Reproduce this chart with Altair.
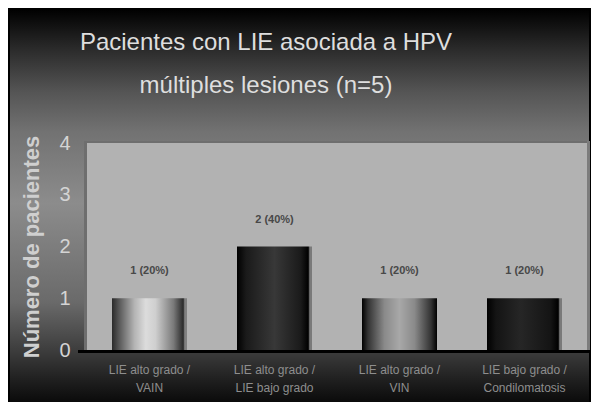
import altair as alt
import pandas as pd

categories = [
    "LIE alto grado / VAIN",
    "LIE alto grado / LIE bajo grado",
    "LIE alto grado / VIN",
    "LIE bajo grado / Condilomatosis",
]
values = [1, 2, 1, 1]
percents = [20, 40, 20, 20]
y_ticks = [0, 1, 2, 3, 4]
title_lines = ["Pacientes con LIE asociada a HPV", "múltiples lesiones (n=5)"]
y_title = "Número de pacientes"

df = pd.DataFrame({"cat": categories, "value": values, "pct": percents})
one = pd.DataFrame({"k": [0]})

FONT = "Liberation Sans"
W, H = 500, 207

bar_gradients = [
    [("#2a2a2a", 0), ("#5a5a5a", 0.1), ("#b4b4b4", 0.3), ("#dcdcdc", 0.45), ("#cfcfcf", 0.58),
     ("#7a7a7a", 0.82), ("#2a2a2a", 0.95), ("#808080", 0.97), ("#808080", 1)],
    [("#000000", 0), ("#1a1a1a", 0.12), ("#383838", 0.5), ("#1a1a1a", 0.85), ("#000000", 0.95),
     ("#7a7a7a", 0.97), ("#7a7a7a", 1)],
    [("#000000", 0), ("#333333", 0.08), ("#8a8a8a", 0.3), ("#a8a8a8", 0.5), ("#8a8a8a", 0.7),
     ("#333333", 0.92), ("#000000", 1)],
    [("#000000", 0), ("#141414", 0.12), ("#262626", 0.45), ("#141414", 0.85), ("#000000", 0.95),
     ("#7a7a7a", 0.97), ("#7a7a7a", 1)],
]

def grad(stops, horizontal=True):
    return alt.LinearGradient(
        gradient="linear",
        stops=[alt.GradientStop(color=c, offset=o) for c, o in stops],
        x1=0, x2=1 if horizontal else 0, y1=0, y2=0 if horizontal else 1,
    )

bg = alt.Chart(one).mark_rect(
    fill=grad([("#000000", 0), ("#2a2a2a", 0.1), ("#555555", 0.21), ("#727272", 0.31),
               ("#8c8c8c", 0.49), ("#6a6a6a", 0.74), ("#3a3a3a", 0.87), ("#1e1e1e", 0.94),
               ("#080808", 1)], horizontal=False),
    stroke="#000000", strokeWidth=2,
).encode(x=alt.value(-78), x2=alt.value(503), y=alt.value(-134), y2=alt.value(262))

wall_left = alt.Chart(one).mark_rect(fill="#6e6e6e").encode(
    x=alt.value(-3), x2=alt.value(0), y=alt.value(-2), y2=alt.value(H))
wall_top = alt.Chart(one).mark_rect(fill="#6e6e6e").encode(
    x=alt.value(-3), x2=alt.value(W), y=alt.value(-2), y2=alt.value(0))
plot_bg = alt.Chart(one).mark_rect(fill="#b2b2b2").encode(
    x=alt.value(0), x2=alt.value(W), y=alt.value(0), y2=alt.value(H))
right_wall = alt.Chart(one).mark_rect(fill="#7c7c7c").encode(
    x=alt.value(W), x2=alt.value(W + 3), y=alt.value(-2), y2=alt.value(H))
base_line = alt.Chart(one).mark_rect(fill="#000000").encode(
    x=alt.value(-9), x2=alt.value(W + 3), y=alt.value(H), y2=alt.value(H + 3))

title1 = alt.Chart(one).mark_text(
    text=title_lines[0], font=FONT, fontSize=24, color="#dedede", baseline="alphabetic", align="center"
).encode(x=alt.value(179), y=alt.value(-93))
title2 = alt.Chart(one).mark_text(
    text=title_lines[1], font=FONT, fontSize=24, color="#dedede", baseline="alphabetic", align="center"
).encode(x=alt.value(179), y=alt.value(-50))

x_enc = alt.X(
    "cat:N", sort=categories, title=None,
    scale=alt.Scale(paddingInner=0.4, paddingOuter=0.2),
    axis=alt.Axis(
        zindex=1,
        labelAngle=0, labelFont=FONT, labelFontSize=12, labelColor="#8e8e8e",
        labelExpr="[split(datum.label, ' / ')[0] + ' /', split(datum.label, ' / ')[1]]",
        labelLineHeight=18, labelPadding=14, ticks=False, domain=False, labelLimit=200,
    ),
)
y_enc = alt.Y(
    "value:Q", title=y_title,
    scale=alt.Scale(domain=[0, 4], nice=False),
    axis=alt.Axis(
        zindex=1, format="d",
        values=y_ticks, grid=False, ticks=False, domain=False,
        labelFont=FONT, labelFontSize=20, labelColor="#d4d4d4", labelPadding=17,
        titleFont=FONT, titleFontSize=22, titleFontWeight="bold", titleColor="#cfcfcf",
        titleX=-56, titleY=H / 2, titleAngle=-90, titleBaseline="middle", titleAlign="center",
    ),
)

bars = []
for i, c in enumerate(categories):
    bars.append(
        alt.Chart(df).transform_filter(alt.datum.cat == c)
        .mark_bar(fill=grad(bar_gradients[i]), stroke=None)
        .encode(x=x_enc, y=y_enc)
    )

labels = alt.Chart(df).transform_calculate(
    label="datum.value + ' (' + datum.pct + '%)'"
).mark_text(font=FONT, fontSize=11, fontWeight="bold", color="#484848", dy=-27).encode(
    x=alt.X("cat:N", sort=categories), y="value:Q", text="label:N"
)

chart = alt.layer(
    bg, wall_left, wall_top, right_wall, plot_bg, *bars, base_line, labels, title1, title2
).properties(
    width=W, height=H,
    autosize=alt.AutoSizeParams(type="none"),
    padding={"left": 87, "top": 143, "right": 8, "bottom": 52},
    background="#ffffff",
).configure_view(stroke=None)

chart.save("out.html", embed_options={"renderer": "svg", "actions": False})
